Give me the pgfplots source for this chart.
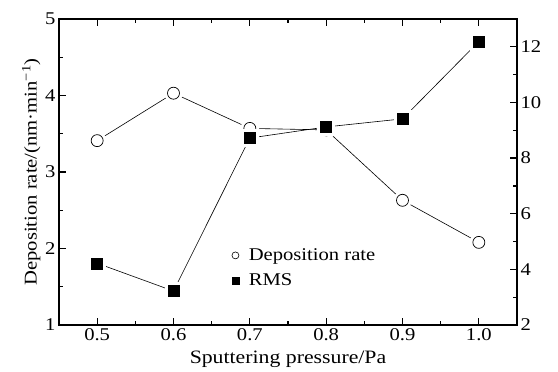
\documentclass[border=0pt]{standalone}
\usepackage{pgfplots}
\pgfplotsset{compat=1.18}
\usepackage{fontspec}
\setmainfont{Liberation Serif}[FakeStretch=1.15]
\begin{document}
\begin{tikzpicture}[font=\fontsize{18}{21}\selectfont]
\pgfplotsset{
 every axis/.append style={
  scale only axis, width=458bp, height=306bp,
  xmin=0.45, xmax=1.05,
  at={(0,0)}, anchor=south west,
  axis line style={line width=1.5bp},
  major tick length=7bp, minor tick length=4bp,
  every tick/.style={black, line width=1.2bp},
  tick align=inside,
  /pgf/number format/assume math mode=true,
  tick label style={font=\fontsize{18}{21}\selectfont},
 }
}
\path[use as bounding box] (-59bp,-47bp) rectangle (499bp,325bp);
\begin{axis}[
 ymin=1, ymax=5, ytick={1,2,3,4,5}, minor y tick num=1,
 xtick={0.5,0.6,0.7,0.8,0.9,1.0},
 xticklabels={0.5,0.6,0.7,0.8,0.9,1.0},
 minor x tick num=1,
 xtick pos=both, ytick pos=left,
 xlabel={Sputtering pressure/Pa},
 xlabel style={font=\fontsize{19}{22}\selectfont, yshift=-3bp},
 ylabel={Deposition rate/(nm·min\textsuperscript{−1})},
 ylabel style={font=\fontsize{18}{21}\selectfont, yshift=-2bp},
]
\addplot[black, line width=0.6bp, forget plot] coordinates {(0.5,3.41) (0.6,4.03) (0.7,3.57) (0.8,3.55) (0.9,2.63) (1.0,2.08)};
\addplot[only marks, mark=*, mark size=9bp, white, forget plot] coordinates {(0.5,3.41) (0.6,4.03) (0.7,3.57) (0.8,3.55) (0.9,2.63) (1.0,2.08)};
\addplot[only marks, mark=o, mark size=6bp, black, mark options={fill=white, line width=0.7bp}, forget plot] coordinates {(0.5,3.41) (0.6,4.03) (0.7,3.57) (0.8,3.55) (0.9,2.63) (1.0,2.08)};
\end{axis}
\begin{axis}[
 ymin=2, ymax=13, ytick={2,4,6,8,10,12}, minor y tick num=1,
 xtick=\empty, ytick pos=right,
 legend style={draw=none, fill=none, at={(rel axis cs:0.37,0.263)}, anchor=north west, font=\fontsize{18}{21}\selectfont, row sep=8bp},
 legend cell align=left,
]
\addplot[black, line width=0.6bp, forget plot] coordinates {(0.5,4.22) (0.6,3.22) (0.7,8.72) (0.8,9.12) (0.9,9.41) (1.0,12.19)};
\addplot[only marks, mark=square*, mark size=8.5bp, white, forget plot] coordinates {(0.5,4.22) (0.6,3.22) (0.7,8.72) (0.8,9.12) (0.9,9.41) (1.0,12.19)};
\addplot[only marks, mark=square*, mark size=5.5bp, black, forget plot] coordinates {(0.5,4.22) (0.6,3.22) (0.7,8.72) (0.8,9.12) (0.9,9.41) (1.0,12.19)};
\addlegendimage{legend image code/.code={\path[draw=none, fill=none] (0cm,0cm) -- (0.5cm,0cm); \draw[black, fill=none, line width=0.6bp] (0.1cm,0cm) circle (3.5bp);}}
\addlegendentry{Deposition rate}
\addlegendimage{legend image code/.code={\path[draw=none, fill=none] (0cm,0cm) -- (0.5cm,0cm); \fill[black] (0.1cm,0cm) ++(-3.5bp,-3.5bp) rectangle ++(7bp,7bp);}}
\addlegendentry{RMS}
\end{axis}
\end{tikzpicture}
\end{document}
